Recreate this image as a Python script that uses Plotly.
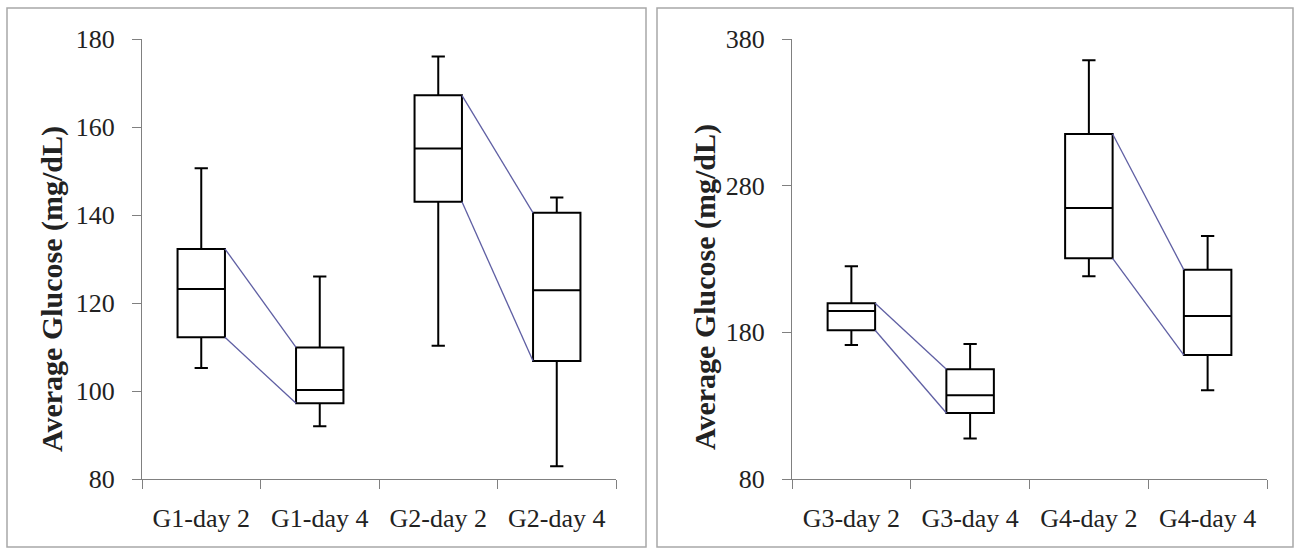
import plotly.graph_objects as go

W, H = 1296, 548

# Left panel: groups G1 and G2
left_categories = ["G1-day 2", "G1-day 4", "G2-day 2", "G2-day 4"]
left_low = [105.2, 92.0, 110.3, 82.9]
left_q1 = [112.2, 97.2, 143.0, 106.8]
left_median = [123.2, 100.2, 155.1, 122.9]
left_q3 = [132.3, 109.9, 167.2, 140.5]
left_high = [150.6, 126.0, 176.0, 144.0]
left_ticks = [80, 100, 120, 140, 160, 180]

# Right panel: groups G3 and G4
right_categories = ["G3-day 2", "G3-day 4", "G4-day 2", "G4-day 4"]
right_low = [171.4, 107.6, 218.3, 140.5]
right_q1 = [181.4, 125.0, 230.5, 164.5]
right_median = [194.5, 137.1, 264.8, 191.2]
right_q3 = [199.8, 154.8, 315.2, 222.6]
right_high = [225.0, 172.1, 365.5, 245.7]
right_ticks = [80, 180, 280, 380]

y_title = "Average Glucose (mg/dL)"

BOX_W = 0.4
AXIS_GREY = "#808080"
LINK_COLOR = "#5f5fa3"
TICK_FONT = dict(family="Liberation Serif", size=26, color="#222222")


def px_x(p):
    return p / W


def px_y(p):
    return 1 - p / H


fig = go.Figure()


def add_panel(xa, ya, cats, low, q1, med, q3, high):
    pos = list(range(len(cats)))
    fig.add_trace(go.Box(
        x=pos, q1=q1, median=med, q3=q3, lowerfence=low, upperfence=high,
        width=BOX_W, whiskerwidth=0.28, boxpoints=False,
        line=dict(color="black", width=2), fillcolor="white",
        showlegend=False, hoverinfo="skip", xaxis=xa, yaxis=ya,
    ))
    # lines joining day 2 and day 4 box edges within each group
    for i in (0, 2):
        for vals in (q3, q1):
            fig.add_trace(go.Scatter(
                x=[pos[i] + BOX_W / 2, pos[i + 1] - BOX_W / 2],
                y=[vals[i], vals[i + 1]],
                mode="lines", line=dict(color=LINK_COLOR, width=1.3),
                showlegend=False, hoverinfo="skip", xaxis=xa, yaxis=ya,
            ))


add_panel("x", "y", left_categories, left_low, left_q1, left_median, left_q3, left_high)
add_panel("x2", "y2", right_categories, right_low, right_q1, right_median, right_q3, right_high)


def xaxis_cfg(domain, cats):
    n = len(cats)
    return dict(
        domain=domain, range=[-0.5, n - 0.5], automargin=False,
        tickmode="array", tickvals=list(range(n)), ticktext=cats,
        ticks="", ticklabelstandoff=16,
        minor=dict(tickmode="array", tickvals=[i - 0.5 for i in range(n + 1)],
                   ticks="outside", ticklen=9, tickcolor=AXIS_GREY, tickwidth=1.3),
        showline=True, linecolor=AXIS_GREY, linewidth=1.3,
        showgrid=False, zeroline=False, tickfont=TICK_FONT, fixedrange=True,
    )


def yaxis_cfg(anchor, ticks):
    return dict(
        domain=[px_y(479), px_y(39)], range=[ticks[0], ticks[-1]], anchor=anchor,
        automargin=False,
        tickmode="array", tickvals=ticks,
        ticks="outside", ticklen=9, tickcolor=AXIS_GREY, tickwidth=1.3,
        ticklabelstandoff=12,
        showline=True, linecolor=AXIS_GREY, linewidth=1.3,
        showgrid=False, zeroline=False, tickfont=TICK_FONT, fixedrange=True,
    )


fig.update_layout(
    width=W, height=H, autosize=False,
    margin=dict(l=0, r=0, t=0, b=0, pad=0, autoexpand=False),
    paper_bgcolor="white", plot_bgcolor="white",
    xaxis=dict(xaxis_cfg([px_x(142), px_x(616)], left_categories), anchor="y"),
    yaxis=yaxis_cfg("x", left_ticks),
    xaxis2=dict(xaxis_cfg([px_x(792), px_x(1267)], right_categories), anchor="y2"),
    yaxis2=yaxis_cfg("x2", right_ticks),
    shapes=[
        dict(type="rect", xref="paper", yref="paper",
             x0=px_x(7), x1=px_x(646), y0=px_y(547), y1=px_y(8),
             line=dict(color="#a8a8a8", width=1.5), layer="below"),
        dict(type="rect", xref="paper", yref="paper",
             x0=px_x(657), x1=px_x(1293), y0=px_y(547), y1=px_y(8),
             line=dict(color="#a8a8a8", width=1.5), layer="below"),
    ],
    annotations=[
        dict(text=y_title, xref="paper", yref="paper", x=px_x(52), y=px_y(289),
             textangle=-90, showarrow=False, xanchor="center", yanchor="middle",
             font=dict(family="Liberation Serif", size=30, color="#222222", weight="bold")),
        dict(text=y_title, xref="paper", yref="paper", x=px_x(705), y=px_y(287),
             textangle=-90, showarrow=False, xanchor="center", yanchor="middle",
             font=dict(family="Liberation Serif", size=30, color="#222222", weight="bold")),
    ],
)

fig.write_html("out.html")
